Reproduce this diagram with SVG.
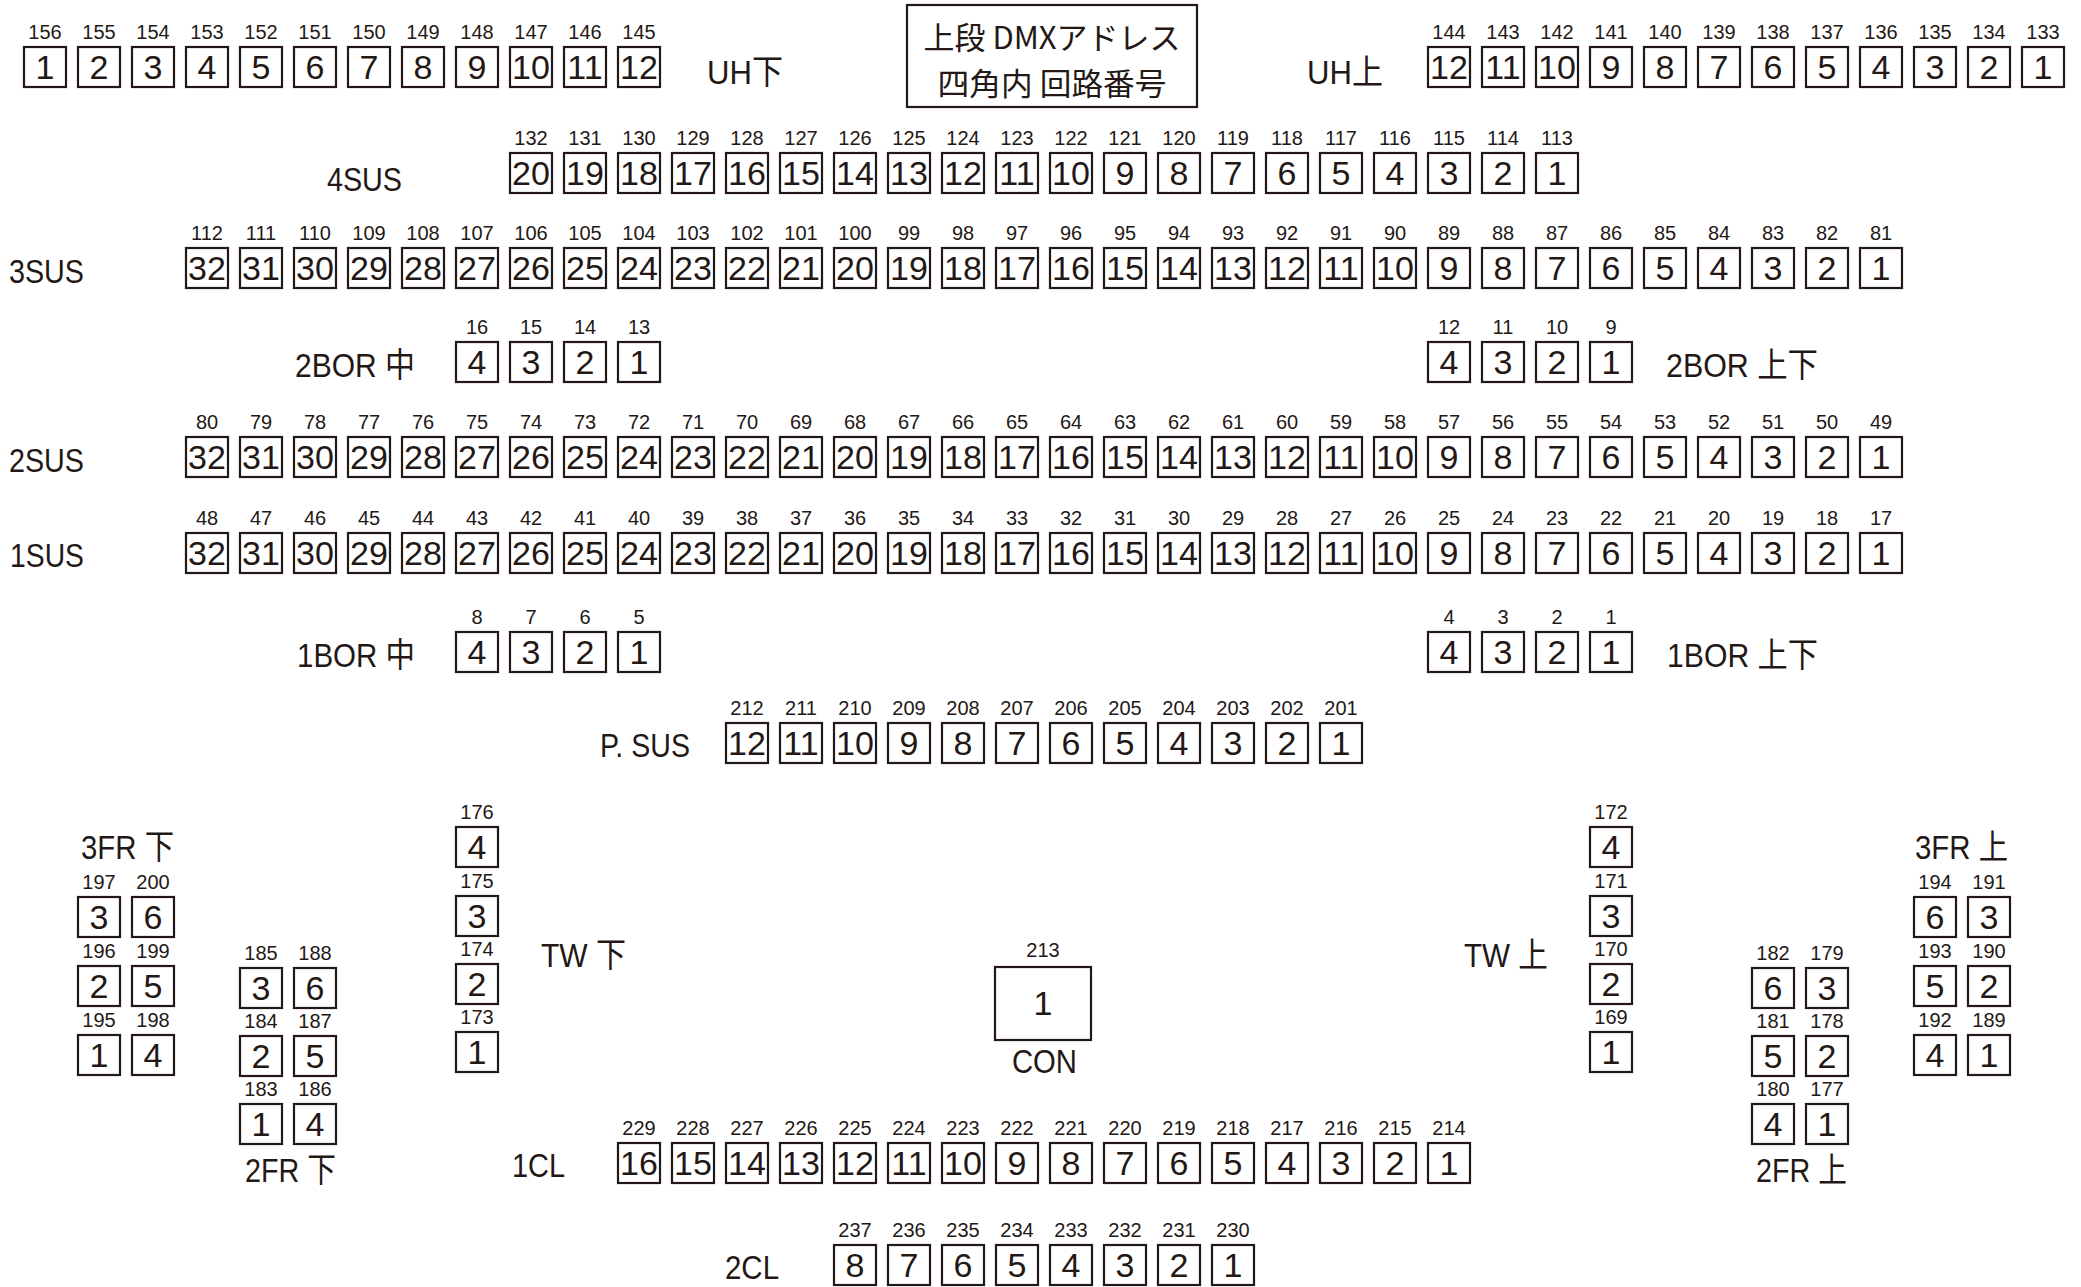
<svg xmlns="http://www.w3.org/2000/svg" width="2081" height="1287" viewBox="0 0 2081 1287">
<style>
rect{fill:#fff;stroke:#231815;stroke-width:2.2}
text{fill:#231815;font-family:"Liberation Sans","Noto Sans CJK JP",sans-serif}
.a{font-size:20px;text-anchor:middle}
.c{font-size:34px;text-anchor:middle}
.l{font-size:34px}
.t{font-size:31px;text-anchor:middle;font-family:"Noto Sans CJK JP",sans-serif}
</style>
<rect x="0" y="0" width="2081" height="1287" style="stroke:none"/>
<g id="title"><rect x="907" y="5" width="290" height="102"/><text class="t" x="1052" y="49" textLength="257" lengthAdjust="spacingAndGlyphs">上段 DMXアドレス</text><text class="t" x="1052" y="95" textLength="229" lengthAdjust="spacingAndGlyphs">四角内 回路番号</text></g>

<g id="row-UH-shita"><text class="l" x="707" y="84" textLength="76" lengthAdjust="spacingAndGlyphs">UH下</text>
<g transform="translate(0,47)">
<g id="d156"><rect x="24" width="42" height="40"/><text class="a" x="45" y="-8">156</text><text class="c" x="45" y="32">1</text></g>
<g id="d155"><rect x="78" width="42" height="40"/><text class="a" x="99" y="-8">155</text><text class="c" x="99" y="32">2</text></g>
<g id="d154"><rect x="132" width="42" height="40"/><text class="a" x="153" y="-8">154</text><text class="c" x="153" y="32">3</text></g>
<g id="d153"><rect x="186" width="42" height="40"/><text class="a" x="207" y="-8">153</text><text class="c" x="207" y="32">4</text></g>
<g id="d152"><rect x="240" width="42" height="40"/><text class="a" x="261" y="-8">152</text><text class="c" x="261" y="32">5</text></g>
<g id="d151"><rect x="294" width="42" height="40"/><text class="a" x="315" y="-8">151</text><text class="c" x="315" y="32">6</text></g>
<g id="d150"><rect x="348" width="42" height="40"/><text class="a" x="369" y="-8">150</text><text class="c" x="369" y="32">7</text></g>
<g id="d149"><rect x="402" width="42" height="40"/><text class="a" x="423" y="-8">149</text><text class="c" x="423" y="32">8</text></g>
<g id="d148"><rect x="456" width="42" height="40"/><text class="a" x="477" y="-8">148</text><text class="c" x="477" y="32">9</text></g>
<g id="d147"><rect x="510" width="42" height="40"/><text class="a" x="531" y="-8">147</text><text class="c" x="531" y="32">10</text></g>
<g id="d146"><rect x="564" width="42" height="40"/><text class="a" x="585" y="-8">146</text><text class="c" x="585" y="32">11</text></g>
<g id="d145"><rect x="618" width="42" height="40"/><text class="a" x="639" y="-8">145</text><text class="c" x="639" y="32">12</text></g>
</g></g>

<g id="row-UH-kami"><text class="l" x="1307" y="84" textLength="76" lengthAdjust="spacingAndGlyphs">UH上</text>
<g transform="translate(0,47)">
<g id="d144"><rect x="1428" width="42" height="40"/><text class="a" x="1449" y="-8">144</text><text class="c" x="1449" y="32">12</text></g>
<g id="d143"><rect x="1482" width="42" height="40"/><text class="a" x="1503" y="-8">143</text><text class="c" x="1503" y="32">11</text></g>
<g id="d142"><rect x="1536" width="42" height="40"/><text class="a" x="1557" y="-8">142</text><text class="c" x="1557" y="32">10</text></g>
<g id="d141"><rect x="1590" width="42" height="40"/><text class="a" x="1611" y="-8">141</text><text class="c" x="1611" y="32">9</text></g>
<g id="d140"><rect x="1644" width="42" height="40"/><text class="a" x="1665" y="-8">140</text><text class="c" x="1665" y="32">8</text></g>
<g id="d139"><rect x="1698" width="42" height="40"/><text class="a" x="1719" y="-8">139</text><text class="c" x="1719" y="32">7</text></g>
<g id="d138"><rect x="1752" width="42" height="40"/><text class="a" x="1773" y="-8">138</text><text class="c" x="1773" y="32">6</text></g>
<g id="d137"><rect x="1806" width="42" height="40"/><text class="a" x="1827" y="-8">137</text><text class="c" x="1827" y="32">5</text></g>
<g id="d136"><rect x="1860" width="42" height="40"/><text class="a" x="1881" y="-8">136</text><text class="c" x="1881" y="32">4</text></g>
<g id="d135"><rect x="1914" width="42" height="40"/><text class="a" x="1935" y="-8">135</text><text class="c" x="1935" y="32">3</text></g>
<g id="d134"><rect x="1968" width="42" height="40"/><text class="a" x="1989" y="-8">134</text><text class="c" x="1989" y="32">2</text></g>
<g id="d133"><rect x="2022" width="42" height="40"/><text class="a" x="2043" y="-8">133</text><text class="c" x="2043" y="32">1</text></g>
</g></g>

<g id="row-4SUS"><text class="l" x="327" y="191" textLength="75" lengthAdjust="spacingAndGlyphs">4SUS</text>
<g transform="translate(0,153)">
<g id="d132"><rect x="510" width="42" height="40"/><text class="a" x="531" y="-8">132</text><text class="c" x="531" y="32">20</text></g>
<g id="d131"><rect x="564" width="42" height="40"/><text class="a" x="585" y="-8">131</text><text class="c" x="585" y="32">19</text></g>
<g id="d130"><rect x="618" width="42" height="40"/><text class="a" x="639" y="-8">130</text><text class="c" x="639" y="32">18</text></g>
<g id="d129"><rect x="672" width="42" height="40"/><text class="a" x="693" y="-8">129</text><text class="c" x="693" y="32">17</text></g>
<g id="d128"><rect x="726" width="42" height="40"/><text class="a" x="747" y="-8">128</text><text class="c" x="747" y="32">16</text></g>
<g id="d127"><rect x="780" width="42" height="40"/><text class="a" x="801" y="-8">127</text><text class="c" x="801" y="32">15</text></g>
<g id="d126"><rect x="834" width="42" height="40"/><text class="a" x="855" y="-8">126</text><text class="c" x="855" y="32">14</text></g>
<g id="d125"><rect x="888" width="42" height="40"/><text class="a" x="909" y="-8">125</text><text class="c" x="909" y="32">13</text></g>
<g id="d124"><rect x="942" width="42" height="40"/><text class="a" x="963" y="-8">124</text><text class="c" x="963" y="32">12</text></g>
<g id="d123"><rect x="996" width="42" height="40"/><text class="a" x="1017" y="-8">123</text><text class="c" x="1017" y="32">11</text></g>
<g id="d122"><rect x="1050" width="42" height="40"/><text class="a" x="1071" y="-8">122</text><text class="c" x="1071" y="32">10</text></g>
<g id="d121"><rect x="1104" width="42" height="40"/><text class="a" x="1125" y="-8">121</text><text class="c" x="1125" y="32">9</text></g>
<g id="d120"><rect x="1158" width="42" height="40"/><text class="a" x="1179" y="-8">120</text><text class="c" x="1179" y="32">8</text></g>
<g id="d119"><rect x="1212" width="42" height="40"/><text class="a" x="1233" y="-8">119</text><text class="c" x="1233" y="32">7</text></g>
<g id="d118"><rect x="1266" width="42" height="40"/><text class="a" x="1287" y="-8">118</text><text class="c" x="1287" y="32">6</text></g>
<g id="d117"><rect x="1320" width="42" height="40"/><text class="a" x="1341" y="-8">117</text><text class="c" x="1341" y="32">5</text></g>
<g id="d116"><rect x="1374" width="42" height="40"/><text class="a" x="1395" y="-8">116</text><text class="c" x="1395" y="32">4</text></g>
<g id="d115"><rect x="1428" width="42" height="40"/><text class="a" x="1449" y="-8">115</text><text class="c" x="1449" y="32">3</text></g>
<g id="d114"><rect x="1482" width="42" height="40"/><text class="a" x="1503" y="-8">114</text><text class="c" x="1503" y="32">2</text></g>
<g id="d113"><rect x="1536" width="42" height="40"/><text class="a" x="1557" y="-8">113</text><text class="c" x="1557" y="32">1</text></g>
</g></g>

<g id="row-3SUS"><text class="l" x="9" y="283" textLength="75" lengthAdjust="spacingAndGlyphs">3SUS</text>
<g transform="translate(0,248)">
<g id="d112"><rect x="186" width="42" height="40"/><text class="a" x="207" y="-8">112</text><text class="c" x="207" y="32">32</text></g>
<g id="d111"><rect x="240" width="42" height="40"/><text class="a" x="261" y="-8">111</text><text class="c" x="261" y="32">31</text></g>
<g id="d110"><rect x="294" width="42" height="40"/><text class="a" x="315" y="-8">110</text><text class="c" x="315" y="32">30</text></g>
<g id="d109"><rect x="348" width="42" height="40"/><text class="a" x="369" y="-8">109</text><text class="c" x="369" y="32">29</text></g>
<g id="d108"><rect x="402" width="42" height="40"/><text class="a" x="423" y="-8">108</text><text class="c" x="423" y="32">28</text></g>
<g id="d107"><rect x="456" width="42" height="40"/><text class="a" x="477" y="-8">107</text><text class="c" x="477" y="32">27</text></g>
<g id="d106"><rect x="510" width="42" height="40"/><text class="a" x="531" y="-8">106</text><text class="c" x="531" y="32">26</text></g>
<g id="d105"><rect x="564" width="42" height="40"/><text class="a" x="585" y="-8">105</text><text class="c" x="585" y="32">25</text></g>
<g id="d104"><rect x="618" width="42" height="40"/><text class="a" x="639" y="-8">104</text><text class="c" x="639" y="32">24</text></g>
<g id="d103"><rect x="672" width="42" height="40"/><text class="a" x="693" y="-8">103</text><text class="c" x="693" y="32">23</text></g>
<g id="d102"><rect x="726" width="42" height="40"/><text class="a" x="747" y="-8">102</text><text class="c" x="747" y="32">22</text></g>
<g id="d101"><rect x="780" width="42" height="40"/><text class="a" x="801" y="-8">101</text><text class="c" x="801" y="32">21</text></g>
<g id="d100"><rect x="834" width="42" height="40"/><text class="a" x="855" y="-8">100</text><text class="c" x="855" y="32">20</text></g>
<g id="d99"><rect x="888" width="42" height="40"/><text class="a" x="909" y="-8">99</text><text class="c" x="909" y="32">19</text></g>
<g id="d98"><rect x="942" width="42" height="40"/><text class="a" x="963" y="-8">98</text><text class="c" x="963" y="32">18</text></g>
<g id="d97"><rect x="996" width="42" height="40"/><text class="a" x="1017" y="-8">97</text><text class="c" x="1017" y="32">17</text></g>
<g id="d96"><rect x="1050" width="42" height="40"/><text class="a" x="1071" y="-8">96</text><text class="c" x="1071" y="32">16</text></g>
<g id="d95"><rect x="1104" width="42" height="40"/><text class="a" x="1125" y="-8">95</text><text class="c" x="1125" y="32">15</text></g>
<g id="d94"><rect x="1158" width="42" height="40"/><text class="a" x="1179" y="-8">94</text><text class="c" x="1179" y="32">14</text></g>
<g id="d93"><rect x="1212" width="42" height="40"/><text class="a" x="1233" y="-8">93</text><text class="c" x="1233" y="32">13</text></g>
<g id="d92"><rect x="1266" width="42" height="40"/><text class="a" x="1287" y="-8">92</text><text class="c" x="1287" y="32">12</text></g>
<g id="d91"><rect x="1320" width="42" height="40"/><text class="a" x="1341" y="-8">91</text><text class="c" x="1341" y="32">11</text></g>
<g id="d90"><rect x="1374" width="42" height="40"/><text class="a" x="1395" y="-8">90</text><text class="c" x="1395" y="32">10</text></g>
<g id="d89"><rect x="1428" width="42" height="40"/><text class="a" x="1449" y="-8">89</text><text class="c" x="1449" y="32">9</text></g>
<g id="d88"><rect x="1482" width="42" height="40"/><text class="a" x="1503" y="-8">88</text><text class="c" x="1503" y="32">8</text></g>
<g id="d87"><rect x="1536" width="42" height="40"/><text class="a" x="1557" y="-8">87</text><text class="c" x="1557" y="32">7</text></g>
<g id="d86"><rect x="1590" width="42" height="40"/><text class="a" x="1611" y="-8">86</text><text class="c" x="1611" y="32">6</text></g>
<g id="d85"><rect x="1644" width="42" height="40"/><text class="a" x="1665" y="-8">85</text><text class="c" x="1665" y="32">5</text></g>
<g id="d84"><rect x="1698" width="42" height="40"/><text class="a" x="1719" y="-8">84</text><text class="c" x="1719" y="32">4</text></g>
<g id="d83"><rect x="1752" width="42" height="40"/><text class="a" x="1773" y="-8">83</text><text class="c" x="1773" y="32">3</text></g>
<g id="d82"><rect x="1806" width="42" height="40"/><text class="a" x="1827" y="-8">82</text><text class="c" x="1827" y="32">2</text></g>
<g id="d81"><rect x="1860" width="42" height="40"/><text class="a" x="1881" y="-8">81</text><text class="c" x="1881" y="32">1</text></g>
</g></g>

<g id="row-2BOR-naka"><text class="l" x="295" y="377" textLength="120" lengthAdjust="spacingAndGlyphs">2BOR 中</text>
<g transform="translate(0,342)">
<g id="b16"><rect x="456" width="42" height="40"/><text class="a" x="477" y="-8">16</text><text class="c" x="477" y="32">4</text></g>
<g id="b15"><rect x="510" width="42" height="40"/><text class="a" x="531" y="-8">15</text><text class="c" x="531" y="32">3</text></g>
<g id="b14"><rect x="564" width="42" height="40"/><text class="a" x="585" y="-8">14</text><text class="c" x="585" y="32">2</text></g>
<g id="b13"><rect x="618" width="42" height="40"/><text class="a" x="639" y="-8">13</text><text class="c" x="639" y="32">1</text></g>
</g></g>

<g id="row-2BOR-kamishita"><text class="l" x="1666" y="377" textLength="152" lengthAdjust="spacingAndGlyphs">2BOR 上下</text>
<g transform="translate(0,342)">
<g id="b12"><rect x="1428" width="42" height="40"/><text class="a" x="1449" y="-8">12</text><text class="c" x="1449" y="32">4</text></g>
<g id="b11"><rect x="1482" width="42" height="40"/><text class="a" x="1503" y="-8">11</text><text class="c" x="1503" y="32">3</text></g>
<g id="b10"><rect x="1536" width="42" height="40"/><text class="a" x="1557" y="-8">10</text><text class="c" x="1557" y="32">2</text></g>
<g id="b9"><rect x="1590" width="42" height="40"/><text class="a" x="1611" y="-8">9</text><text class="c" x="1611" y="32">1</text></g>
</g></g>

<g id="row-2SUS"><text class="l" x="9" y="472" textLength="75" lengthAdjust="spacingAndGlyphs">2SUS</text>
<g transform="translate(0,437)">
<g id="d80"><rect x="186" width="42" height="40"/><text class="a" x="207" y="-8">80</text><text class="c" x="207" y="32">32</text></g>
<g id="d79"><rect x="240" width="42" height="40"/><text class="a" x="261" y="-8">79</text><text class="c" x="261" y="32">31</text></g>
<g id="d78"><rect x="294" width="42" height="40"/><text class="a" x="315" y="-8">78</text><text class="c" x="315" y="32">30</text></g>
<g id="d77"><rect x="348" width="42" height="40"/><text class="a" x="369" y="-8">77</text><text class="c" x="369" y="32">29</text></g>
<g id="d76"><rect x="402" width="42" height="40"/><text class="a" x="423" y="-8">76</text><text class="c" x="423" y="32">28</text></g>
<g id="d75"><rect x="456" width="42" height="40"/><text class="a" x="477" y="-8">75</text><text class="c" x="477" y="32">27</text></g>
<g id="d74"><rect x="510" width="42" height="40"/><text class="a" x="531" y="-8">74</text><text class="c" x="531" y="32">26</text></g>
<g id="d73"><rect x="564" width="42" height="40"/><text class="a" x="585" y="-8">73</text><text class="c" x="585" y="32">25</text></g>
<g id="d72"><rect x="618" width="42" height="40"/><text class="a" x="639" y="-8">72</text><text class="c" x="639" y="32">24</text></g>
<g id="d71"><rect x="672" width="42" height="40"/><text class="a" x="693" y="-8">71</text><text class="c" x="693" y="32">23</text></g>
<g id="d70"><rect x="726" width="42" height="40"/><text class="a" x="747" y="-8">70</text><text class="c" x="747" y="32">22</text></g>
<g id="d69"><rect x="780" width="42" height="40"/><text class="a" x="801" y="-8">69</text><text class="c" x="801" y="32">21</text></g>
<g id="d68"><rect x="834" width="42" height="40"/><text class="a" x="855" y="-8">68</text><text class="c" x="855" y="32">20</text></g>
<g id="d67"><rect x="888" width="42" height="40"/><text class="a" x="909" y="-8">67</text><text class="c" x="909" y="32">19</text></g>
<g id="d66"><rect x="942" width="42" height="40"/><text class="a" x="963" y="-8">66</text><text class="c" x="963" y="32">18</text></g>
<g id="d65"><rect x="996" width="42" height="40"/><text class="a" x="1017" y="-8">65</text><text class="c" x="1017" y="32">17</text></g>
<g id="d64"><rect x="1050" width="42" height="40"/><text class="a" x="1071" y="-8">64</text><text class="c" x="1071" y="32">16</text></g>
<g id="d63"><rect x="1104" width="42" height="40"/><text class="a" x="1125" y="-8">63</text><text class="c" x="1125" y="32">15</text></g>
<g id="d62"><rect x="1158" width="42" height="40"/><text class="a" x="1179" y="-8">62</text><text class="c" x="1179" y="32">14</text></g>
<g id="d61"><rect x="1212" width="42" height="40"/><text class="a" x="1233" y="-8">61</text><text class="c" x="1233" y="32">13</text></g>
<g id="d60"><rect x="1266" width="42" height="40"/><text class="a" x="1287" y="-8">60</text><text class="c" x="1287" y="32">12</text></g>
<g id="d59"><rect x="1320" width="42" height="40"/><text class="a" x="1341" y="-8">59</text><text class="c" x="1341" y="32">11</text></g>
<g id="d58"><rect x="1374" width="42" height="40"/><text class="a" x="1395" y="-8">58</text><text class="c" x="1395" y="32">10</text></g>
<g id="d57"><rect x="1428" width="42" height="40"/><text class="a" x="1449" y="-8">57</text><text class="c" x="1449" y="32">9</text></g>
<g id="d56"><rect x="1482" width="42" height="40"/><text class="a" x="1503" y="-8">56</text><text class="c" x="1503" y="32">8</text></g>
<g id="d55"><rect x="1536" width="42" height="40"/><text class="a" x="1557" y="-8">55</text><text class="c" x="1557" y="32">7</text></g>
<g id="d54"><rect x="1590" width="42" height="40"/><text class="a" x="1611" y="-8">54</text><text class="c" x="1611" y="32">6</text></g>
<g id="d53"><rect x="1644" width="42" height="40"/><text class="a" x="1665" y="-8">53</text><text class="c" x="1665" y="32">5</text></g>
<g id="d52"><rect x="1698" width="42" height="40"/><text class="a" x="1719" y="-8">52</text><text class="c" x="1719" y="32">4</text></g>
<g id="d51"><rect x="1752" width="42" height="40"/><text class="a" x="1773" y="-8">51</text><text class="c" x="1773" y="32">3</text></g>
<g id="d50"><rect x="1806" width="42" height="40"/><text class="a" x="1827" y="-8">50</text><text class="c" x="1827" y="32">2</text></g>
<g id="d49"><rect x="1860" width="42" height="40"/><text class="a" x="1881" y="-8">49</text><text class="c" x="1881" y="32">1</text></g>
</g></g>

<g id="row-1SUS"><text class="l" x="10" y="567" textLength="74" lengthAdjust="spacingAndGlyphs">1SUS</text>
<g transform="translate(0,533)">
<g id="d48"><rect x="186" width="42" height="40"/><text class="a" x="207" y="-8">48</text><text class="c" x="207" y="32">32</text></g>
<g id="d47"><rect x="240" width="42" height="40"/><text class="a" x="261" y="-8">47</text><text class="c" x="261" y="32">31</text></g>
<g id="d46"><rect x="294" width="42" height="40"/><text class="a" x="315" y="-8">46</text><text class="c" x="315" y="32">30</text></g>
<g id="d45"><rect x="348" width="42" height="40"/><text class="a" x="369" y="-8">45</text><text class="c" x="369" y="32">29</text></g>
<g id="d44"><rect x="402" width="42" height="40"/><text class="a" x="423" y="-8">44</text><text class="c" x="423" y="32">28</text></g>
<g id="d43"><rect x="456" width="42" height="40"/><text class="a" x="477" y="-8">43</text><text class="c" x="477" y="32">27</text></g>
<g id="d42"><rect x="510" width="42" height="40"/><text class="a" x="531" y="-8">42</text><text class="c" x="531" y="32">26</text></g>
<g id="d41"><rect x="564" width="42" height="40"/><text class="a" x="585" y="-8">41</text><text class="c" x="585" y="32">25</text></g>
<g id="d40"><rect x="618" width="42" height="40"/><text class="a" x="639" y="-8">40</text><text class="c" x="639" y="32">24</text></g>
<g id="d39"><rect x="672" width="42" height="40"/><text class="a" x="693" y="-8">39</text><text class="c" x="693" y="32">23</text></g>
<g id="d38"><rect x="726" width="42" height="40"/><text class="a" x="747" y="-8">38</text><text class="c" x="747" y="32">22</text></g>
<g id="d37"><rect x="780" width="42" height="40"/><text class="a" x="801" y="-8">37</text><text class="c" x="801" y="32">21</text></g>
<g id="d36"><rect x="834" width="42" height="40"/><text class="a" x="855" y="-8">36</text><text class="c" x="855" y="32">20</text></g>
<g id="d35"><rect x="888" width="42" height="40"/><text class="a" x="909" y="-8">35</text><text class="c" x="909" y="32">19</text></g>
<g id="d34"><rect x="942" width="42" height="40"/><text class="a" x="963" y="-8">34</text><text class="c" x="963" y="32">18</text></g>
<g id="d33"><rect x="996" width="42" height="40"/><text class="a" x="1017" y="-8">33</text><text class="c" x="1017" y="32">17</text></g>
<g id="d32"><rect x="1050" width="42" height="40"/><text class="a" x="1071" y="-8">32</text><text class="c" x="1071" y="32">16</text></g>
<g id="d31"><rect x="1104" width="42" height="40"/><text class="a" x="1125" y="-8">31</text><text class="c" x="1125" y="32">15</text></g>
<g id="d30"><rect x="1158" width="42" height="40"/><text class="a" x="1179" y="-8">30</text><text class="c" x="1179" y="32">14</text></g>
<g id="d29"><rect x="1212" width="42" height="40"/><text class="a" x="1233" y="-8">29</text><text class="c" x="1233" y="32">13</text></g>
<g id="d28"><rect x="1266" width="42" height="40"/><text class="a" x="1287" y="-8">28</text><text class="c" x="1287" y="32">12</text></g>
<g id="d27"><rect x="1320" width="42" height="40"/><text class="a" x="1341" y="-8">27</text><text class="c" x="1341" y="32">11</text></g>
<g id="d26"><rect x="1374" width="42" height="40"/><text class="a" x="1395" y="-8">26</text><text class="c" x="1395" y="32">10</text></g>
<g id="d25"><rect x="1428" width="42" height="40"/><text class="a" x="1449" y="-8">25</text><text class="c" x="1449" y="32">9</text></g>
<g id="d24"><rect x="1482" width="42" height="40"/><text class="a" x="1503" y="-8">24</text><text class="c" x="1503" y="32">8</text></g>
<g id="d23"><rect x="1536" width="42" height="40"/><text class="a" x="1557" y="-8">23</text><text class="c" x="1557" y="32">7</text></g>
<g id="d22"><rect x="1590" width="42" height="40"/><text class="a" x="1611" y="-8">22</text><text class="c" x="1611" y="32">6</text></g>
<g id="d21"><rect x="1644" width="42" height="40"/><text class="a" x="1665" y="-8">21</text><text class="c" x="1665" y="32">5</text></g>
<g id="d20"><rect x="1698" width="42" height="40"/><text class="a" x="1719" y="-8">20</text><text class="c" x="1719" y="32">4</text></g>
<g id="d19"><rect x="1752" width="42" height="40"/><text class="a" x="1773" y="-8">19</text><text class="c" x="1773" y="32">3</text></g>
<g id="d18"><rect x="1806" width="42" height="40"/><text class="a" x="1827" y="-8">18</text><text class="c" x="1827" y="32">2</text></g>
<g id="d17"><rect x="1860" width="42" height="40"/><text class="a" x="1881" y="-8">17</text><text class="c" x="1881" y="32">1</text></g>
</g></g>

<g id="row-1BOR-naka"><text class="l" x="297" y="667" textLength="118" lengthAdjust="spacingAndGlyphs">1BOR 中</text>
<g transform="translate(0,632)">
<g id="b8"><rect x="456" width="42" height="40"/><text class="a" x="477" y="-8">8</text><text class="c" x="477" y="32">4</text></g>
<g id="b7"><rect x="510" width="42" height="40"/><text class="a" x="531" y="-8">7</text><text class="c" x="531" y="32">3</text></g>
<g id="b6"><rect x="564" width="42" height="40"/><text class="a" x="585" y="-8">6</text><text class="c" x="585" y="32">2</text></g>
<g id="b5"><rect x="618" width="42" height="40"/><text class="a" x="639" y="-8">5</text><text class="c" x="639" y="32">1</text></g>
</g></g>

<g id="row-1BOR-kamishita"><text class="l" x="1667" y="667" textLength="151" lengthAdjust="spacingAndGlyphs">1BOR 上下</text>
<g transform="translate(0,632)">
<g id="b4"><rect x="1428" width="42" height="40"/><text class="a" x="1449" y="-8">4</text><text class="c" x="1449" y="32">4</text></g>
<g id="b3"><rect x="1482" width="42" height="40"/><text class="a" x="1503" y="-8">3</text><text class="c" x="1503" y="32">3</text></g>
<g id="b2"><rect x="1536" width="42" height="40"/><text class="a" x="1557" y="-8">2</text><text class="c" x="1557" y="32">2</text></g>
<g id="b1"><rect x="1590" width="42" height="40"/><text class="a" x="1611" y="-8">1</text><text class="c" x="1611" y="32">1</text></g>
</g></g>

<g id="row-PSUS"><text class="l" x="600" y="757" textLength="90" lengthAdjust="spacingAndGlyphs">P. SUS</text>
<g transform="translate(0,723)">
<g id="d212"><rect x="726" width="42" height="40"/><text class="a" x="747" y="-8">212</text><text class="c" x="747" y="32">12</text></g>
<g id="d211"><rect x="780" width="42" height="40"/><text class="a" x="801" y="-8">211</text><text class="c" x="801" y="32">11</text></g>
<g id="d210"><rect x="834" width="42" height="40"/><text class="a" x="855" y="-8">210</text><text class="c" x="855" y="32">10</text></g>
<g id="d209"><rect x="888" width="42" height="40"/><text class="a" x="909" y="-8">209</text><text class="c" x="909" y="32">9</text></g>
<g id="d208"><rect x="942" width="42" height="40"/><text class="a" x="963" y="-8">208</text><text class="c" x="963" y="32">8</text></g>
<g id="d207"><rect x="996" width="42" height="40"/><text class="a" x="1017" y="-8">207</text><text class="c" x="1017" y="32">7</text></g>
<g id="d206"><rect x="1050" width="42" height="40"/><text class="a" x="1071" y="-8">206</text><text class="c" x="1071" y="32">6</text></g>
<g id="d205"><rect x="1104" width="42" height="40"/><text class="a" x="1125" y="-8">205</text><text class="c" x="1125" y="32">5</text></g>
<g id="d204"><rect x="1158" width="42" height="40"/><text class="a" x="1179" y="-8">204</text><text class="c" x="1179" y="32">4</text></g>
<g id="d203"><rect x="1212" width="42" height="40"/><text class="a" x="1233" y="-8">203</text><text class="c" x="1233" y="32">3</text></g>
<g id="d202"><rect x="1266" width="42" height="40"/><text class="a" x="1287" y="-8">202</text><text class="c" x="1287" y="32">2</text></g>
<g id="d201"><rect x="1320" width="42" height="40"/><text class="a" x="1341" y="-8">201</text><text class="c" x="1341" y="32">1</text></g>
</g></g>

<g id="grp-3FR-shita"><text class="l" x="81" y="859" textLength="93" lengthAdjust="spacingAndGlyphs">3FR 下</text>
<g transform="translate(0,897)">
<g id="d197"><rect x="78" width="42" height="40"/><text class="a" x="99" y="-8">197</text><text class="c" x="99" y="32">3</text></g>
<g id="d200"><rect x="132" width="42" height="40"/><text class="a" x="153" y="-8">200</text><text class="c" x="153" y="32">6</text></g>
</g>
<g transform="translate(0,966)">
<g id="d196"><rect x="78" width="42" height="40"/><text class="a" x="99" y="-8">196</text><text class="c" x="99" y="32">2</text></g>
<g id="d199"><rect x="132" width="42" height="40"/><text class="a" x="153" y="-8">199</text><text class="c" x="153" y="32">5</text></g>
</g>
<g transform="translate(0,1035)">
<g id="d195"><rect x="78" width="42" height="40"/><text class="a" x="99" y="-8">195</text><text class="c" x="99" y="32">1</text></g>
<g id="d198"><rect x="132" width="42" height="40"/><text class="a" x="153" y="-8">198</text><text class="c" x="153" y="32">4</text></g>
</g></g>

<g id="grp-2FR-shita"><text class="l" x="245" y="1182" textLength="91" lengthAdjust="spacingAndGlyphs">2FR 下</text>
<g transform="translate(0,968)">
<g id="d185"><rect x="240" width="42" height="40"/><text class="a" x="261" y="-8">185</text><text class="c" x="261" y="32">3</text></g>
<g id="d188"><rect x="294" width="42" height="40"/><text class="a" x="315" y="-8">188</text><text class="c" x="315" y="32">6</text></g>
</g>
<g transform="translate(0,1036)">
<g id="d184"><rect x="240" width="42" height="40"/><text class="a" x="261" y="-8">184</text><text class="c" x="261" y="32">2</text></g>
<g id="d187"><rect x="294" width="42" height="40"/><text class="a" x="315" y="-8">187</text><text class="c" x="315" y="32">5</text></g>
</g>
<g transform="translate(0,1104)">
<g id="d183"><rect x="240" width="42" height="40"/><text class="a" x="261" y="-8">183</text><text class="c" x="261" y="32">1</text></g>
<g id="d186"><rect x="294" width="42" height="40"/><text class="a" x="315" y="-8">186</text><text class="c" x="315" y="32">4</text></g>
</g></g>

<g id="grp-TW-shita"><text class="l" x="541" y="967" textLength="85" lengthAdjust="spacingAndGlyphs">TW 下</text>
<g id="d176"><rect x="456" y="827" width="42" height="40"/><text class="a" x="477" y="819">176</text><text class="c" x="477" y="859">4</text></g>
<g id="d175"><rect x="456" y="896" width="42" height="40"/><text class="a" x="477" y="888">175</text><text class="c" x="477" y="928">3</text></g>
<g id="d174"><rect x="456" y="964" width="42" height="40"/><text class="a" x="477" y="956">174</text><text class="c" x="477" y="996">2</text></g>
<g id="d173"><rect x="456" y="1032" width="42" height="40"/><text class="a" x="477" y="1024">173</text><text class="c" x="477" y="1064">1</text></g>
</g>

<g id="grp-TW-kami"><text class="l" x="1464" y="967" textLength="84" lengthAdjust="spacingAndGlyphs">TW 上</text>
<g id="d172"><rect x="1590" y="827" width="42" height="40"/><text class="a" x="1611" y="819">172</text><text class="c" x="1611" y="859">4</text></g>
<g id="d171"><rect x="1590" y="896" width="42" height="40"/><text class="a" x="1611" y="888">171</text><text class="c" x="1611" y="928">3</text></g>
<g id="d170"><rect x="1590" y="964" width="42" height="40"/><text class="a" x="1611" y="956">170</text><text class="c" x="1611" y="996">2</text></g>
<g id="d169"><rect x="1590" y="1032" width="42" height="40"/><text class="a" x="1611" y="1024">169</text><text class="c" x="1611" y="1064">1</text></g>
</g>

<g id="grp-CON"><rect x="995" y="967" width="96" height="73"/><text class="a" x="1043" y="957">213</text><text class="c" x="1043" y="1015">1</text><text class="l" x="1012" y="1073" textLength="65" lengthAdjust="spacingAndGlyphs">CON</text></g>

<g id="grp-2FR-kami"><text class="l" x="1756" y="1182" textLength="91" lengthAdjust="spacingAndGlyphs">2FR 上</text>
<g transform="translate(0,968)">
<g id="d182"><rect x="1752" width="42" height="40"/><text class="a" x="1773" y="-8">182</text><text class="c" x="1773" y="32">6</text></g>
<g id="d179"><rect x="1806" width="42" height="40"/><text class="a" x="1827" y="-8">179</text><text class="c" x="1827" y="32">3</text></g>
</g>
<g transform="translate(0,1036)">
<g id="d181"><rect x="1752" width="42" height="40"/><text class="a" x="1773" y="-8">181</text><text class="c" x="1773" y="32">5</text></g>
<g id="d178"><rect x="1806" width="42" height="40"/><text class="a" x="1827" y="-8">178</text><text class="c" x="1827" y="32">2</text></g>
</g>
<g transform="translate(0,1104)">
<g id="d180"><rect x="1752" width="42" height="40"/><text class="a" x="1773" y="-8">180</text><text class="c" x="1773" y="32">4</text></g>
<g id="d177"><rect x="1806" width="42" height="40"/><text class="a" x="1827" y="-8">177</text><text class="c" x="1827" y="32">1</text></g>
</g></g>

<g id="grp-3FR-kami"><text class="l" x="1915" y="859" textLength="93" lengthAdjust="spacingAndGlyphs">3FR 上</text>
<g transform="translate(0,897)">
<g id="d194"><rect x="1914" width="42" height="40"/><text class="a" x="1935" y="-8">194</text><text class="c" x="1935" y="32">6</text></g>
<g id="d191"><rect x="1968" width="42" height="40"/><text class="a" x="1989" y="-8">191</text><text class="c" x="1989" y="32">3</text></g>
</g>
<g transform="translate(0,966)">
<g id="d193"><rect x="1914" width="42" height="40"/><text class="a" x="1935" y="-8">193</text><text class="c" x="1935" y="32">5</text></g>
<g id="d190"><rect x="1968" width="42" height="40"/><text class="a" x="1989" y="-8">190</text><text class="c" x="1989" y="32">2</text></g>
</g>
<g transform="translate(0,1035)">
<g id="d192"><rect x="1914" width="42" height="40"/><text class="a" x="1935" y="-8">192</text><text class="c" x="1935" y="32">4</text></g>
<g id="d189"><rect x="1968" width="42" height="40"/><text class="a" x="1989" y="-8">189</text><text class="c" x="1989" y="32">1</text></g>
</g></g>

<g id="row-1CL"><text class="l" x="512" y="1177" textLength="53" lengthAdjust="spacingAndGlyphs">1CL</text>
<g transform="translate(0,1143)">
<g id="d229"><rect x="618" width="42" height="40"/><text class="a" x="639" y="-8">229</text><text class="c" x="639" y="32">16</text></g>
<g id="d228"><rect x="672" width="42" height="40"/><text class="a" x="693" y="-8">228</text><text class="c" x="693" y="32">15</text></g>
<g id="d227"><rect x="726" width="42" height="40"/><text class="a" x="747" y="-8">227</text><text class="c" x="747" y="32">14</text></g>
<g id="d226"><rect x="780" width="42" height="40"/><text class="a" x="801" y="-8">226</text><text class="c" x="801" y="32">13</text></g>
<g id="d225"><rect x="834" width="42" height="40"/><text class="a" x="855" y="-8">225</text><text class="c" x="855" y="32">12</text></g>
<g id="d224"><rect x="888" width="42" height="40"/><text class="a" x="909" y="-8">224</text><text class="c" x="909" y="32">11</text></g>
<g id="d223"><rect x="942" width="42" height="40"/><text class="a" x="963" y="-8">223</text><text class="c" x="963" y="32">10</text></g>
<g id="d222"><rect x="996" width="42" height="40"/><text class="a" x="1017" y="-8">222</text><text class="c" x="1017" y="32">9</text></g>
<g id="d221"><rect x="1050" width="42" height="40"/><text class="a" x="1071" y="-8">221</text><text class="c" x="1071" y="32">8</text></g>
<g id="d220"><rect x="1104" width="42" height="40"/><text class="a" x="1125" y="-8">220</text><text class="c" x="1125" y="32">7</text></g>
<g id="d219"><rect x="1158" width="42" height="40"/><text class="a" x="1179" y="-8">219</text><text class="c" x="1179" y="32">6</text></g>
<g id="d218"><rect x="1212" width="42" height="40"/><text class="a" x="1233" y="-8">218</text><text class="c" x="1233" y="32">5</text></g>
<g id="d217"><rect x="1266" width="42" height="40"/><text class="a" x="1287" y="-8">217</text><text class="c" x="1287" y="32">4</text></g>
<g id="d216"><rect x="1320" width="42" height="40"/><text class="a" x="1341" y="-8">216</text><text class="c" x="1341" y="32">3</text></g>
<g id="d215"><rect x="1374" width="42" height="40"/><text class="a" x="1395" y="-8">215</text><text class="c" x="1395" y="32">2</text></g>
<g id="d214"><rect x="1428" width="42" height="40"/><text class="a" x="1449" y="-8">214</text><text class="c" x="1449" y="32">1</text></g>
</g></g>

<g id="row-2CL"><text class="l" x="725" y="1279" textLength="54" lengthAdjust="spacingAndGlyphs">2CL</text>
<g transform="translate(0,1245)">
<g id="d237"><rect x="834" width="42" height="40"/><text class="a" x="855" y="-8">237</text><text class="c" x="855" y="32">8</text></g>
<g id="d236"><rect x="888" width="42" height="40"/><text class="a" x="909" y="-8">236</text><text class="c" x="909" y="32">7</text></g>
<g id="d235"><rect x="942" width="42" height="40"/><text class="a" x="963" y="-8">235</text><text class="c" x="963" y="32">6</text></g>
<g id="d234"><rect x="996" width="42" height="40"/><text class="a" x="1017" y="-8">234</text><text class="c" x="1017" y="32">5</text></g>
<g id="d233"><rect x="1050" width="42" height="40"/><text class="a" x="1071" y="-8">233</text><text class="c" x="1071" y="32">4</text></g>
<g id="d232"><rect x="1104" width="42" height="40"/><text class="a" x="1125" y="-8">232</text><text class="c" x="1125" y="32">3</text></g>
<g id="d231"><rect x="1158" width="42" height="40"/><text class="a" x="1179" y="-8">231</text><text class="c" x="1179" y="32">2</text></g>
<g id="d230"><rect x="1212" width="42" height="40"/><text class="a" x="1233" y="-8">230</text><text class="c" x="1233" y="32">1</text></g>
</g></g>
</svg>
